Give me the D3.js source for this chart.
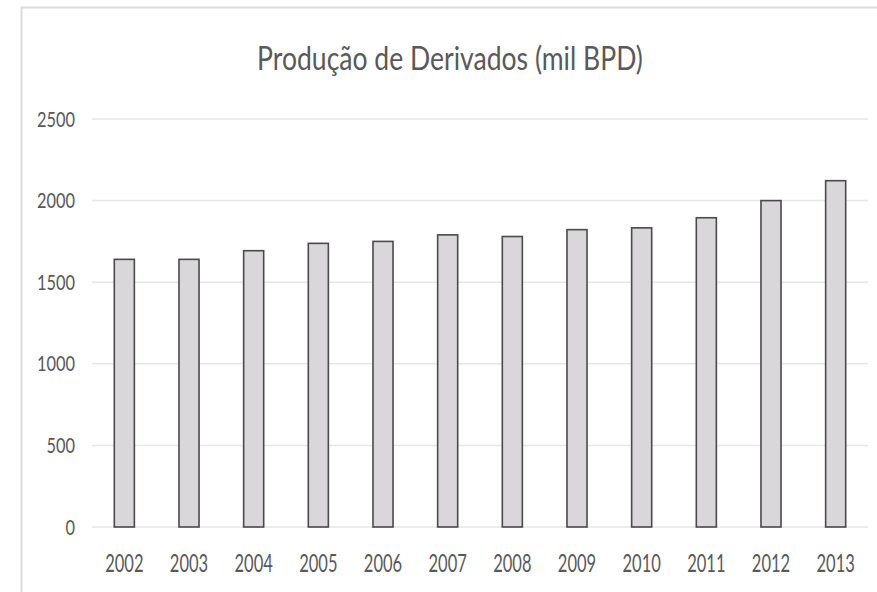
<!DOCTYPE html>
<html>
<head>
<meta charset="utf-8">
<script src="https://cdn.jsdelivr.net/npm/d3@7"></script>
<style>
body { margin: 0; background: #fff; }
svg { display: block; font-family: Lato, "Open Sans", sans-serif; }
</style>
</head>
<body>
<svg id="chart" width="877" height="592"></svg>
<script>
// data
var years = ['2002', '2003', '2004', '2005', '2006', '2007', '2008', '2009', '2010', '2011', '2012', '2013'];
var production = [1640, 1640, 1693, 1738, 1750, 1790, 1780, 1822, 1833, 1895, 2000, 2122];
var yTicks = [0, 500, 1000, 1500, 2000, 2500];
var chartTitle = 'Produção de Derivados (mil BPD)';

// layout
var plotLeft = 92;
var plotRight = 868;
var plotTop = 119;
var plotBottom = 527;

var svg = d3.select('#chart');

// chart frame (cut at the right and bottom of the picture)
svg.append('path')
	.attr('d', 'M21.5,592 L21.5,7.5 L877,7.5')
	.attr('fill', 'none')
	.attr('stroke', '#dcdcdc')
	.attr('stroke-width', 2);

var x = d3.scaleBand()
	.domain(years)
	.range([plotLeft, plotRight])
	.paddingInner(0.69)
	.paddingOuter(0.345);

var y = d3.scaleLinear()
	.domain([0, 2500])
	.range([plotBottom, plotTop]);

// gridlines
svg.append('g').selectAll('line')
	.data(yTicks)
	.enter().append('line')
	.attr('x1', plotLeft)
	.attr('x2', plotRight)
	.attr('y1', function(d) { return y(d); })
	.attr('y2', function(d) { return y(d); })
	.attr('stroke', '#e6e6e6')
	.attr('stroke-width', 1.5);

// y axis labels (narrow, like Calibri)
svg.append('g').selectAll('text')
	.data(yTicks)
	.enter().append('text')
	.attr('transform', function(d) {
		return 'translate(75,' + (y(d) + 7.5) + ') scale(0.78,1)';
	})
	.attr('text-anchor', 'end')
	.attr('fill', '#595959')
	.attr('font-size', 21)
	.text(d3.format('d'));

// x axis labels
svg.append('g').selectAll('text')
	.data(years)
	.enter().append('text')
	.attr('transform', function(d) {
		return 'translate(' + (x(d) + x.bandwidth() / 2) + ',571.5) scale(0.66,1)';
	})
	.attr('text-anchor', 'middle')
	.attr('fill', '#595959')
	.attr('font-size', 25)
	.text(function(d) { return d; });

// bars
svg.append('g').selectAll('rect')
	.data(production)
	.enter().append('rect')
	.attr('x', function(d, i) { return x(years[i]); })
	.attr('y', function(d) { return y(d); })
	.attr('width', x.bandwidth())
	.attr('height', function(d) { return plotBottom - y(d); })
	.attr('fill', '#d9d7d9')
	.attr('stroke', '#4a4a4a')
	.attr('stroke-width', 1.6);

// title
svg.append('text')
	.attr('transform', 'translate(450,70) scale(0.83,1)')
	.attr('text-anchor', 'middle')
	.attr('fill', '#595959')
	.attr('font-size', 32)
	.text(chartTitle);
</script>
</body>
</html>
